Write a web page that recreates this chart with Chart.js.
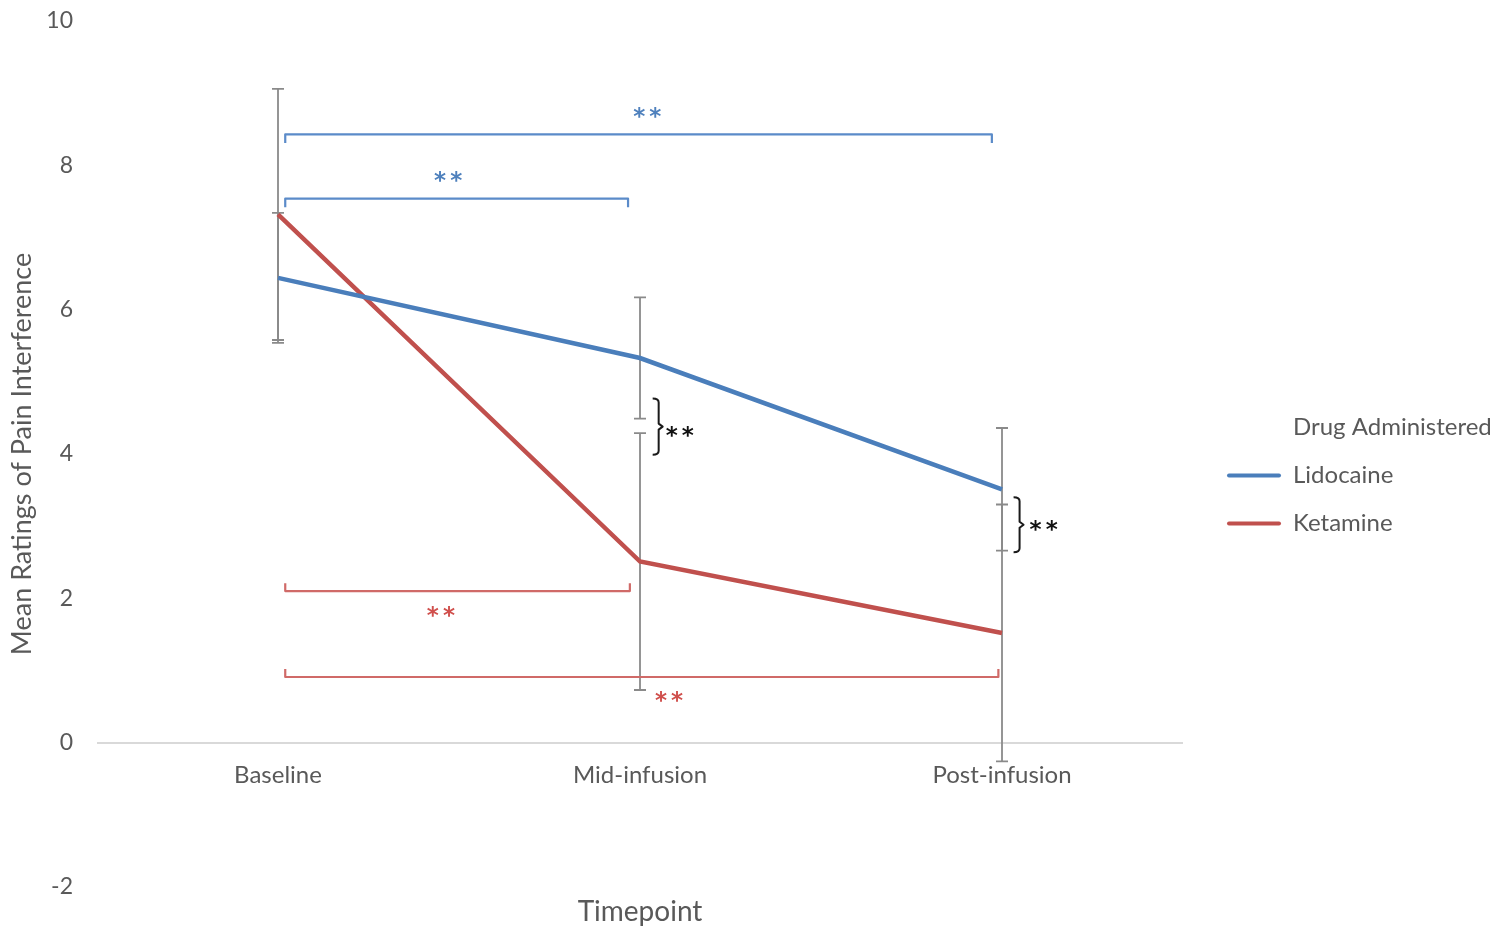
<!DOCTYPE html>
<html>
<head>
<meta charset="utf-8">
<script src="https://cdn.jsdelivr.net/npm/chart.js@4/dist/chart.umd.min.js"></script>
<style>
  html, body { margin: 0; padding: 0; background: #ffffff; }
  #wrap { width: 1509px; height: 930px; }
</style>
</head>
<body>
<div id="wrap"><canvas id="chart" width="1509" height="930"></canvas></div>
<script>
// Mean pain-interference ratings by timepoint, with error-bar half widths
const timepoints = ['Baseline', 'Mid-infusion', 'Post-infusion'];
const lidocaineMeans = [6.44, 5.33, 3.51];
const lidocaineErrors = [0.90, 0.84, 0.85];
const ketamineMeans = [7.32, 2.51, 1.52];
const ketamineErrors = [1.74, 1.78, 1.78];
const yTickValues = [-2, 0, 2, 4, 6, 8, 10];

// Within-drug comparisons (x in category index units, y in rating units)
const lidocaineComparisons = [
  { from: 0.02, to: 0.967, y: 7.54, leg: -0.12, starX: 0.47, starY: 7.84 },
  { from: 0.02, to: 1.972, y: 8.43, leg: -0.12, starX: 1.02, starY: 8.73 }
];
const ketamineComparisons = [
  { from: 0.02, to: 0.972, y: 2.10, leg: 0.11, starX: 0.45, starY: 1.81 },
  { from: 0.02, to: 1.990, y: 0.91, leg: 0.11, starX: 1.08, starY: 0.63 }
];
// Between-drug comparisons at a timepoint
const drugComparisons = [
  { x: 1.035, top: 4.77, bottom: 3.99, starX: 1.11, starY: 4.30 },
  { x: 2.032, top: 3.40, bottom: 2.64, starX: 2.115, starY: 3.00 }
];

const BLUE = '#4a7ebb';
const RED = '#c0504d';
const TEXT = '#595959';
const FONT = 'Lato';
const RIGHT_RESERVE = 326; // room kept right of the plot for the legend
const LEGEND_GAP = 20;     // legend offset from the plot's right edge

const legendOffset = {
  id: 'legendOffset',
  afterLayout(chart) {
    const lg = chart.legend;
    if (lg) { lg.left += LEGEND_GAP; lg.right += LEGEND_GAP; }
  }
};

const errorBars = {
  id: 'errorBars',
  beforeDatasetsDraw(chart) {
    const ctx = chart.ctx;
    const y = chart.scales.y;
    ctx.save();
    ctx.strokeStyle = '#8a8a8a';
    ctx.lineWidth = 1.8;
    chart.data.datasets.forEach((ds, i) => {
      const meta = chart.getDatasetMeta(i);
      if (meta.hidden) return;
      meta.data.forEach((pt, j) => {
        const v = ds.data[j];
        const e = ds.errors[j];
        const yTop = y.getPixelForValue(v + e);
        const yBot = y.getPixelForValue(v - e);
        ctx.beginPath();
        ctx.moveTo(pt.x, yTop); ctx.lineTo(pt.x, yBot);
        ctx.moveTo(pt.x - 6, yTop); ctx.lineTo(pt.x + 6, yTop);
        ctx.moveTo(pt.x - 6, yBot); ctx.lineTo(pt.x + 6, yBot);
        ctx.stroke();
      });
    });
    ctx.restore();
  }
};

function drawStars(ctx, x, y, color) {
  ctx.save();
  ctx.fillStyle = color;
  ctx.font = 'bold 23px "DejaVu Sans"';
  ctx.letterSpacing = '4px';
  ctx.textAlign = 'center';
  ctx.textBaseline = 'middle';
  ctx.fillText('**', x + 2, y + 5);
  ctx.restore();
}

const significance = {
  id: 'significance',
  afterDatasetsDraw(chart) {
    const ctx = chart.ctx;
    const xs = chart.scales.x;
    const ys = chart.scales.y;
    const px = v => xs.getPixelForValue(v);
    const py = v => ys.getPixelForValue(v);
    ctx.save();
    ctx.lineWidth = 2.2;
    ctx.lineJoin = 'round';
    const brackets = (list, color, starColor) => {
      list.forEach(b => {
        ctx.strokeStyle = color;
        ctx.beginPath();
        ctx.moveTo(px(b.from), py(b.y + b.leg));
        ctx.lineTo(px(b.from), py(b.y));
        ctx.lineTo(px(b.to), py(b.y));
        ctx.lineTo(px(b.to), py(b.y + b.leg));
        ctx.stroke();
        drawStars(ctx, px(b.starX), py(b.starY), starColor);
      });
    };
    brackets(lidocaineComparisons, '#5b8bc9', '#4f81bd');
    brackets(ketamineComparisons, '#d06a68', '#d0504d');

    // curly braces joining the two series' error bars
    ctx.strokeStyle = '#1a1a1a';
    ctx.lineWidth = 2;
    drugComparisons.forEach(b => {
      const x0 = px(b.x);
      const x1 = x0 + 6;
      const t = py(b.top), bt = py(b.bottom), m = (t + bt) / 2;
      ctx.beginPath();
      ctx.moveTo(x0, t);
      ctx.quadraticCurveTo(x1, t, x1, t + 4);
      ctx.lineTo(x1, m - 3);
      ctx.lineTo(x1 + 4, m);
      ctx.lineTo(x1, m + 3);
      ctx.lineTo(x1, bt - 4);
      ctx.quadraticCurveTo(x1, bt, x0, bt);
      ctx.stroke();
      drawStars(ctx, px(b.starX), py(b.starY), '#111111');
    });
    ctx.restore();
  }
};

function build() {
  new Chart(document.getElementById('chart'), {
    type: 'line',
    data: {
      labels: timepoints,
      datasets: [
        { label: 'Lidocaine', data: lidocaineMeans, errors: lidocaineErrors,
          borderColor: BLUE, backgroundColor: BLUE, borderWidth: 4.5,
          pointRadius: 0, pointHoverRadius: 0, tension: 0 },
        { label: 'Ketamine', data: ketamineMeans, errors: ketamineErrors,
          borderColor: RED, backgroundColor: RED, borderWidth: 4.5,
          pointRadius: 0, pointHoverRadius: 0, tension: 0 }
      ]
    },
    options: {
      responsive: false,
      animation: false,
      devicePixelRatio: 1,
      layout: { padding: { top: 21, right: 0, bottom: 0, left: 0 } },
      plugins: {
        tooltip: { enabled: false },
        legend: {
          position: 'right',
          align: 'center',
          maxWidth: 294,
          labels: {
            font: { family: FONT, size: 24 },
            color: TEXT,
            boxWidth: 54,
            boxHeight: 4,
            padding: 24,
            generateLabels(chart) {
              const items = Chart.defaults.plugins.legend.labels.generateLabels(chart)
                .map(it => Object.assign({}, it, { lineWidth: 0, borderRadius: 2 }));
              return [{
                text: 'Drug Administered', fillStyle: 'rgba(0,0,0,0)',
                strokeStyle: 'rgba(0,0,0,0)', lineWidth: 0, hidden: false,
                fontColor: TEXT
              }].concat(items);
            }
          },
          onClick(e, item, legend) {
            if (item.datasetIndex === undefined) return;
            Chart.defaults.plugins.legend.onClick.call(this, e, item, legend);
          }
        }
      },
      scales: {
        x: {
          offset: true,
          grid: { display: false, drawTicks: false, tickLength: 0 },
          border: { display: false },
          ticks: { color: TEXT, font: { family: FONT, size: 24 }, mirror: true, padding: 97,
                   maxRotation: 0, autoSkip: false },
          title: { display: true, text: 'Timepoint', color: TEXT,
                   font: { family: FONT, size: 28 }, padding: { top: 0, bottom: 1 } },
          afterFit(s) {
            s.height = 43;
            s.paddingRight = RIGHT_RESERVE;
          }
        },
        y: {
          min: -2, max: 10,
          afterBuildTicks(s) { s.ticks = yTickValues.map(v => ({ value: v })); },
          ticks: { color: TEXT, font: { family: FONT, size: 23 }, padding: 24 },
          grid: {
            drawTicks: false,
            lineWidth: 2,
            color: c => (c.tick && c.tick.value === 0 ? '#d9d9d9' : 'rgba(0,0,0,0)')
          },
          border: { display: false },
          title: { display: true, text: 'Mean Ratings of Pain Interference', color: TEXT,
                   font: { family: FONT, size: 27 }, padding: { top: 6, bottom: 0 } },
          afterFit(s) { s.width = 97; s.paddingTop = 0; s.paddingBottom = 0; }
        }
      }
    },
    plugins: [legendOffset, errorBars, significance]
  });
}

const fontsReady = document.fonts && document.fonts.load
  ? Promise.all([document.fonts.load('24px Lato'), document.fonts.load('bold 23px "DejaVu Sans"')])
  : Promise.resolve();
fontsReady.then(build, build);
</script>
</body>
</html>
